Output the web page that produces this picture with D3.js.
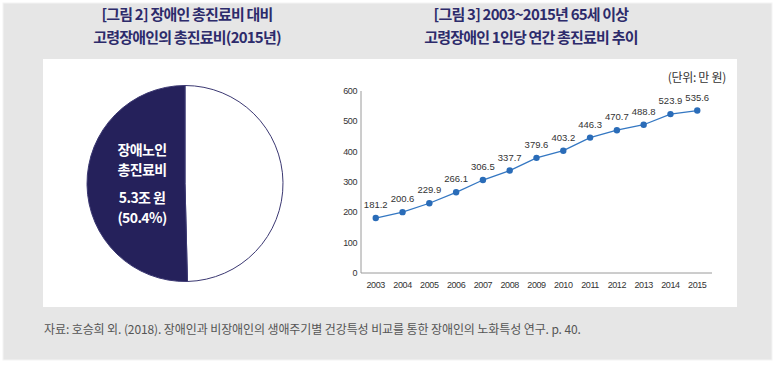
<!DOCTYPE html>
<html>
<head>
<meta charset="utf-8">
<script src="https://cdn.jsdelivr.net/npm/d3@7"></script>
<style>
  body { margin: 0; background: #fff; }
  svg { display: block; font-family: "Noto Sans CJK KR", "Noto Sans", sans-serif; }
  .title { fill: #2d2b6b; font-weight: 700; font-size: 15px; letter-spacing: -0.8px; }
  .tick-label { fill: #333; font-size: 9px; font-family: "Liberation Sans", Arial, sans-serif; letter-spacing: -0.4px; }
  .val-label { fill: #333; font-size: 9.5px; font-family: "Liberation Sans", Arial, sans-serif; }
</style>
</head>
<body>
<svg width="776" height="365"></svg>
<script>
// pie data (share of total medical cost, %)
const pieLabels = ['기타', '장애노인'];
const pieValues = [49.6, 50.4];

// line chart data
const years = ['2003', '2004', '2005', '2006', '2007', '2008', '2009', '2010', '2011', '2012', '2013', '2014', '2015'];
const costs = [181.2, 200.6, 229.9, 266.1, 306.5, 337.7, 379.6, 403.2, 446.3, 470.7, 488.8, 523.9, 535.6];
const yTicks = [0, 100, 200, 300, 400, 500, 600];

const svg = d3.select('svg');

// frame
svg.append('rect')
  .attr('x', 3).attr('y', 3).attr('width', 769).attr('height', 357)
  .attr('fill', '#e6e6e6').attr('stroke', '#f4f4f4');
svg.append('rect')
  .attr('x', 43).attr('y', 59).attr('width', 694).attr('height', 248)
  .attr('fill', '#fff');

// titles
const titles = [
  {x: 187, lines: ['[그림 2] 장애인 총진료비 대비', '고령장애인의 총진료비(2015년)']},
  {x: 531, lines: ['[그림 3] 2003~2015년 65세 이상', '고령장애인 1인당 연간 총진료비 추이']}
];
titles.forEach(t => {
  t.lines.forEach((line, i) => {
    svg.append('text')
      .attr('class', 'title')
      .attr('x', t.x).attr('y', 20 + i * 23)
      .attr('text-anchor', 'middle')
      .text(line);
  });
});

// pie
const cx = 185, cy = 183.5, r = 98;
const pie = d3.pie().sort(null);
const arc = d3.arc().innerRadius(0).outerRadius(r);
const pg = svg.append('g').attr('transform', `translate(${cx},${cy})`);
pg.selectAll('path')
  .data(pie(pieValues)).enter()
  .append('path')
  .attr('d', arc)
  .attr('fill', (d, i) => i === 1 ? '#25215b' : '#fff')
  .attr('stroke', '#3b3872')
  .attr('stroke-width', 1);

const pieText = [
  {t: '장애노인', y: 150},
  {t: '총진료비', y: 170},
  {t: '5.3조 원', y: 198},
  {t: '(50.4%)', y: 218}
];
svg.append('g').selectAll('text')
  .data(pieText).enter()
  .append('text')
  .attr('x', 142).attr('y', d => d.y + 5)
  .attr('text-anchor', 'middle')
  .attr('fill', '#fff')
  .attr('font-weight', 700)
  .attr('font-size', '14px')
  .attr('letter-spacing', '-0.6px')
  .text(d => d.t);

// line chart
const x = d3.scalePoint().domain(years).range([361, 712]).padding(0.55);
const y = d3.scaleLinear().domain([0, 600]).range([273, 91]);

const axisColor = '#9a9a9a';
svg.append('line')
  .attr('x1', 361).attr('x2', 361).attr('y1', y(600)).attr('y2', y(0))
  .attr('stroke', axisColor);
svg.append('line')
  .attr('x1', 361).attr('x2', 712).attr('y1', y(0)).attr('y2', y(0))
  .attr('stroke', axisColor);

svg.append('g').selectAll('text')
  .data(yTicks).enter()
  .append('text')
  .attr('class', 'tick-label')
  .attr('x', 357).attr('y', d => y(d) + 3)
  .attr('text-anchor', 'end')
  .text(d => d);

svg.append('g').selectAll('text')
  .data(years).enter()
  .append('text')
  .attr('class', 'tick-label')
  .attr('x', d => x(d)).attr('y', 288)
  .attr('text-anchor', 'middle')
  .text(d => d);

const line = d3.line()
  .x((d, i) => x(years[i]))
  .y(d => y(d));

svg.append('path')
  .attr('d', line(costs))
  .attr('fill', 'none')
  .attr('stroke', '#3477c2')
  .attr('stroke-width', 1.3);

svg.append('g').selectAll('circle')
  .data(costs).enter()
  .append('circle')
  .attr('cx', (d, i) => x(years[i]))
  .attr('cy', d => y(d))
  .attr('r', 3.2)
  .attr('fill', '#2a6cb8');

svg.append('g').selectAll('text')
  .data(costs).enter()
  .append('text')
  .attr('class', 'val-label')
  .attr('x', (d, i) => x(years[i]))
  .attr('y', d => y(d) - 10)
  .attr('text-anchor', 'middle')
  .text(d => d.toFixed(1));

svg.append('text')
  .attr('x', 726).attr('y', 82)
  .attr('text-anchor', 'end')
  .attr('fill', '#333')
  .attr('font-size', '12px')
  .attr('letter-spacing', '-0.3px')
  .text('(단위: 만 원)');

// source
svg.append('text')
  .attr('x', 44).attr('y', 334)
  .attr('fill', '#555')
  .attr('font-size', '12px')
  .attr('letter-spacing', '-0.1px')
  .text('자료: 호승희 외. (2018). 장애인과 비장애인의 생애주기별 건강특성 비교를 통한 장애인의 노화특성 연구. p. 40.');
</script>
</body>
</html>
